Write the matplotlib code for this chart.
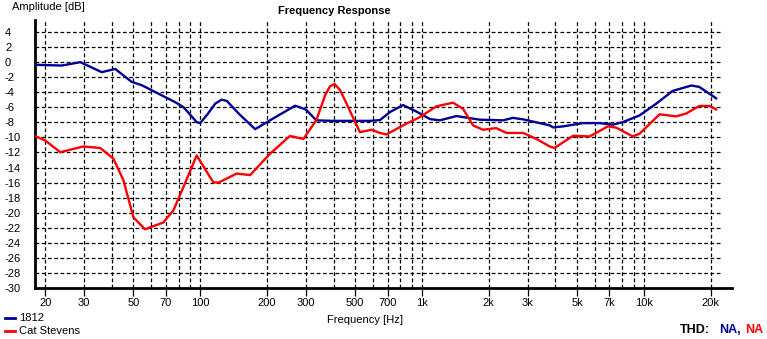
import numpy as np
import matplotlib
matplotlib.use("Agg")
import matplotlib.pyplot as plt

plt.rcParams['font.family'] = ['Liberation Sans', 'DejaVu Sans']

# 1812 (blue)
f_1812 = [18, 23.8, 28.8, 36, 41.4, 49, 54.6, 62.6, 77, 84, 96.4, 100, 108, 117,
          125, 132, 150, 177, 210, 268, 300, 334, 398, 582, 646, 720, 822, 950,
          1086, 1204, 1430, 1820, 2320, 2570, 2860, 3770, 3900, 4330, 5320, 6320,
          7260, 8060, 9580, 11400, 13500, 16400, 17800, 21200]
db_1812 = [-0.35, -0.45, 0.0, -1.33, -0.9, -2.6, -3.07, -3.96, -5.3, -5.96, -7.96,
           -8.1, -6.9, -5.5, -4.98, -5.16, -6.9, -8.9, -7.6, -5.78, -6.3, -7.73,
           -7.8, -7.8, -7.7, -6.6, -5.7, -6.6, -7.56, -7.73, -7.16, -7.64, -7.73,
           -7.4, -7.6, -8.4, -8.67, -8.53, -8.1, -8.1, -8.3, -7.96, -7.07, -5.5,
           -3.82, -3.1, -3.29, -4.8]

# Cat Stevens (red)
f_cat = [18, 20, 23.4, 29.7, 35.4, 40.6, 45.1, 50, 56.4, 68.2, 75.7, 84, 96.4,
         114.6, 121, 146, 168, 206, 254, 292, 334, 366, 385, 404, 427, 457, 525,
         593, 646, 692, 822, 978, 1162, 1380, 1532, 1700, 1885, 2160, 2400, 2860,
         3280, 3770, 3960, 4800, 5700, 6890, 7520, 8930, 9580, 11780, 14000,
         15500, 17800, 19800, 21200]
db_cat = [-9.82, -10.4, -11.96, -11.2, -11.4, -12.8, -15.7, -20.6, -22.2, -21.3,
          -19.7, -16.6, -12.4, -15.96, -16.0, -14.8, -15.0, -12.2, -9.8, -10.2,
          -7.7, -4.4, -3.2, -2.9, -3.7, -5.5, -9.3, -8.98, -9.4, -9.6, -8.4, -7.3,
          -5.87, -5.38, -6.2, -8.4, -8.98, -8.76, -9.4, -9.4, -10.2, -11.2, -11.4,
          -9.78, -9.87, -8.53, -8.7, -9.87, -9.5, -6.93, -7.2, -6.84, -5.82,
          -5.82, -6.27]

x_grid = [20, 30, 40, 50, 60, 70, 80, 90, 100, 200, 300, 400, 500, 600, 700, 800,
          900, 1000, 2000, 3000, 4000, 5000, 6000, 7000, 8000, 9000, 10000, 20000]
x_ticks = [20, 30, 50, 70, 100, 200, 300, 500, 700, 1000, 2000, 3000, 5000, 7000,
           10000, 20000]
x_labels = ["20", "30", "50", "70", "100", "200", "300", "500", "700", "1k", "2k",
            "3k", "5k", "7k", "10k", "20k"]
y_ticks = list(range(-30, 5, 2))

blue = "#000099"
red = "#ff0000"

W, H = 767, 339
fig = plt.figure(figsize=(W / 100, H / 100), dpi=100)
ax = fig.add_axes([35 / W, (H - 288) / H, (732 - 35) / W, (288 - 20) / H])
ax.set_xscale("log")
ax.set_xlim(18, 25000)
ax.set_ylim(-30, 5.6)

# grid
ax.hlines(y_ticks[1:], 18, 22000, colors="black", linestyles=(0, (3, 2)), lw=0.9, zorder=1)
ax.vlines(x_grid, -30, 5.6, colors="black", linestyles=(0, (3, 2)), lw=0.9, zorder=1)

ax.plot(f_1812, db_1812, color=blue, lw=1.7, zorder=3)
ax.plot(f_cat, db_cat, color=red, lw=1.7, zorder=3)

for s in ["top", "right"]:
    ax.spines[s].set_visible(False)
for s in ["left", "bottom"]:
    ax.spines[s].set_linewidth(2)

ax.set_xticks(x_ticks)
ax.set_xticklabels(x_labels)
ax.xaxis.set_minor_locator(matplotlib.ticker.NullLocator())
ax.tick_params(axis="x", length=6, width=0.9, labelsize=8, pad=1)
ax.set_yticks(y_ticks)
ax.set_yticklabels([str(v) for v in y_ticks])
ax.tick_params(axis="y", length=0, labelsize=8, pad=21.6)
for lab in ax.get_yticklabels():
    lab.set_horizontalalignment("left")

fig.text(12 / W, 1 - 7 / H, "Amplitude [dB]", fontsize=8, va="center", ha="left")
fig.text(334 / W, 1 - 11 / H, "Frequency Response", fontsize=8, fontweight="bold",
         va="center", ha="center")
fig.text(365 / W, 1 - 320 / H, "Frequency [Hz]", fontsize=8, va="center", ha="center")

# legend
fig.add_artist(plt.Line2D([5 / W, 15 / W], [1 - 318 / H] * 2, color=blue, lw=2))
fig.text(19 / W, 1 - 318 / H, "1812", fontsize=8, va="center", ha="left")
fig.add_artist(plt.Line2D([5 / W, 15 / W], [1 - 331 / H] * 2, color=red, lw=2))
fig.text(19 / W, 1 - 331 / H, "Cat Stevens", fontsize=8, va="center", ha="left")

# THD
fig.text(680 / W, 1 - 330 / H, "THD:", fontsize=9, fontweight="bold", va="center", ha="left")
fig.text(719 / W, 1 - 330 / H, "NA,", fontsize=9, fontweight="bold", color=blue, va="center", ha="left")
fig.text(745 / W, 1 - 330 / H, "NA", fontsize=9, fontweight="bold", color=red, va="center", ha="left")

fig.savefig("out.png", dpi=100)
